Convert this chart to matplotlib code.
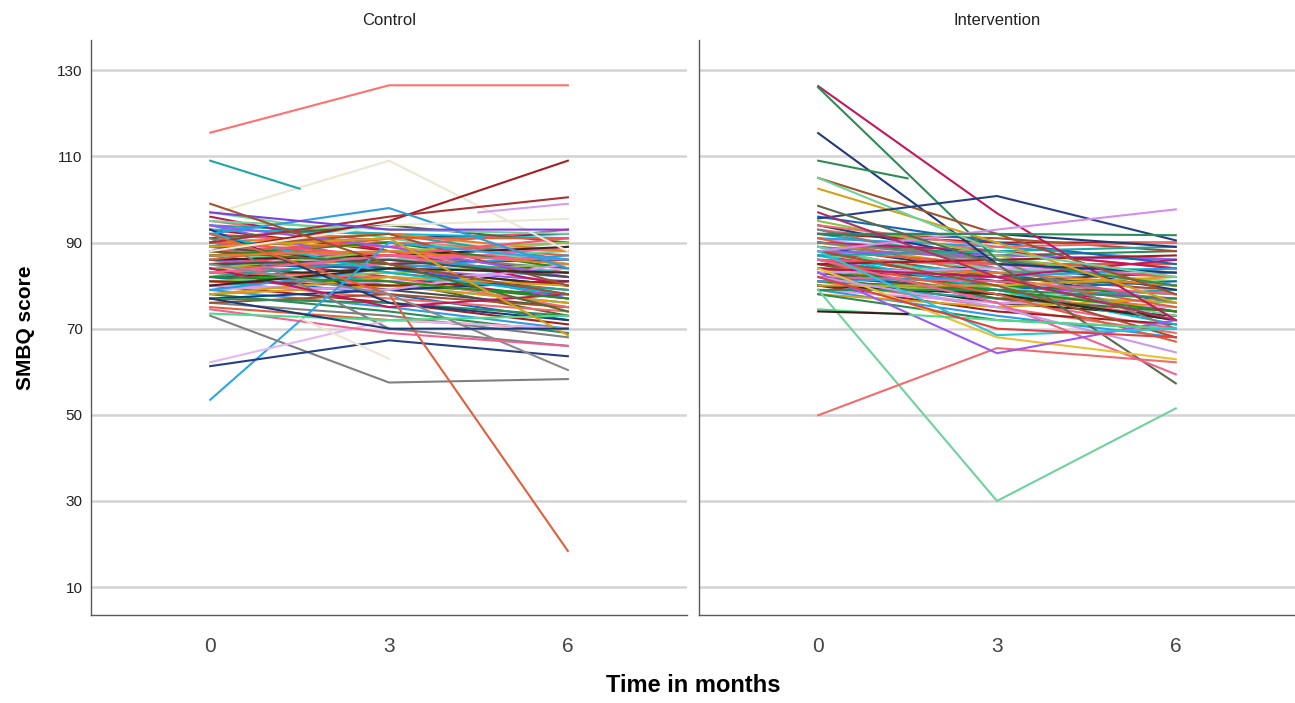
import numpy as np
import matplotlib
matplotlib.use("Agg")
import matplotlib.pyplot as plt
from matplotlib import font_manager

names = {f.name for f in font_manager.fontManager.ttflist}
narrow = 'Liberation Sans Narrow' if 'Liberation Sans Narrow' in names else 'Liberation Sans'
plt.rcParams['font.family'] = [narrow, 'DejaVu Sans']

months = [0, 3, 6]
yticks = [10, 30, 50, 70, 90, 110, 130]
panels = ["Control", "Intervention"]

# control group: SMBQ score at 0, 3, 6 months
control_marked = [
    [115.5, 126.5, 126.5],
    [96.5, 109, 88],
    [88, 95, 109],
    [90, 96, 100.5],
    [92, 98, 84],
    [53.5, 90, 86],
    [73, 57.5, 58.3],
    [61.3, 67.3, 63.6],
    [62.2, 72, 70],
    [92, 78, 18.4],
    [85, 78, 60.4],
    [74.5, 69, 66],
    [73.5, 72, 73],
    [89, 91, 68.5],
    [88, 94, 95.5],
    [77, 70, 70],
    [97, 93, 93],
    [99, 85, 78],
]
control_rest = [
    [95, 90, 88], [94, 92, 86], [93, 88, 83], [92, 86, 90], [91, 85, 82],
    [90, 89, 85], [90, 84, 80], [89, 91, 92], [89, 87, 84], [88, 83, 79],
    [88, 90, 87], [87, 82, 77], [87, 86, 88], [86, 84, 81], [86, 80, 76],
    [85, 88, 86], [85, 81, 73], [84, 86, 83], [84, 79, 75], [83, 85, 89],
    [83, 80, 78], [82, 84, 80], [82, 78, 72], [81, 83, 85], [81, 77, 74],
    [80, 82, 79], [80, 76, 71], [79, 81, 84], [79, 75, 70], [78, 80, 76],
    [78, 74, 69], [77, 79, 81], [76, 73, 68], [76, 78, 75], [75, 72, 70],
    [96, 88, 80], [97, 91, 85], [94, 85, 77], [93, 92, 91], [92, 89, 93],
    [91, 94, 90], [90, 92, 88], [89, 85, 86], [88, 87, 82], [87, 90, 84],
    [86, 87, 89], [85, 84, 78], [84, 88, 90], [83, 82, 75], [82, 86, 83],
    [81, 80, 81], [80, 79, 85], [79, 84, 87], [78, 82, 80], [77, 76, 73],
    [93, 76, 72], [91, 70, 66], [89, 92, 80], [86, 91, 91], [84, 75, 78],
    [95, 93, 92], [94, 89, 82], [92, 83, 78], [90, 87, 91], [88, 85, 74],
    [87, 88, 85], [85, 86, 82], [83, 87, 86], [82, 81, 77], [80, 84, 83],
]
# segments drawn only half way (one visit missing)
control_partial = [
    ([0, 1.5], [109, 102.5]),
    ([4.5, 6], [97, 99]),
    ([1.5, 3], [72.5, 63]),
]

interv_marked = [
    [126.3, 96.8, 72],
    [126, 86, 80],
    [115.4, 85, 83],
    [105, 92, 78],
    [102.5, 90, 76],
    [105, 88, 82],
    [95.6, 100.8, 90.5],
    [88, 93, 97.7],
    [92, 92, 91.7],
    [79, 30, 51.5],
    [49.9, 65.5, 62.2],
    [98.5, 85, 57.3],
    [86, 76, 59.4],
    [84, 68, 62.9],
    [83, 64.3, 72],
    [82, 75, 64.5],
    [74.5, 72, 70],
    [88, 68.5, 70],
    [82, 70, 68],
    [97, 82, 72],
]
interv_rest = [
    [93, 88, 84], [92, 86, 80], [92, 90, 90], [91, 85, 78], [91, 89, 86],
    [90, 84, 82], [90, 87, 88], [89, 83, 76], [89, 86, 83], [88, 82, 79],
    [88, 85, 85], [87, 81, 74], [87, 84, 81], [86, 80, 77], [86, 83, 84],
    [85, 79, 72], [85, 82, 80], [84, 78, 75], [84, 81, 83], [83, 77, 70],
    [83, 80, 78], [82, 76, 73], [82, 79, 81], [81, 78, 76], [81, 75, 69],
    [80, 77, 79], [80, 74, 71], [79, 76, 75], [79, 73, 68], [78, 75, 77],
    [78, 72, 70], [94, 86, 79], [93, 84, 76], [92, 91, 88], [91, 82, 75],
    [90, 88, 84], [89, 80, 73], [88, 87, 86], [87, 79, 71], [86, 85, 82],
    [85, 77, 74], [84, 83, 80], [83, 78, 72], [82, 81, 78], [81, 79, 74],
    [80, 78, 72], [96, 90, 85], [95, 87, 80], [94, 89, 90], [87, 88, 89],
    [85, 86, 87], [83, 84, 83], [81, 82, 84], [80, 80, 82], [79, 79, 77],
    [92, 92, 89], [90, 86, 70], [88, 80, 68], [86, 78, 67], [84, 82, 86],
]
interv_partial = [
    ([0, 1.5], [109, 104.9]),
    ([0, 1.5], [74, 73.4]),
]

# colours
palette = ['#f26b6b', '#1fa5a5', '#a31f1f', '#d59cf0', '#2e9be6', '#d4a017',
           '#2e8b57', '#1f3a7a', '#7f7f7f', '#a0522d', '#e0603c', '#c2185b',
           '#6dd39a', '#9b59f0', '#00bcd4', '#ff4d6d', '#556b2f', '#e67e22',
           '#4d4d4d', '#f06292', '#228b22', '#3b2a1a', '#1565c0', '#8bc34a']
control_marked_colors = ['#ff7070', '#ede6d0', '#a31f1f', '#a83232', '#2e9be6',
                         '#2ea5ea', '#808080', '#253f85', '#e3b8f0', '#e0603c',
                         '#8a8a8a', '#f06292', '#4ddb8a', '#d4a017', '#ece6d4',
                         '#1f3a7a', '#7b3fe0', '#a0522d']
control_partial_colors = ['#1fa5a5', '#d59cf0', '#ede6d0']
interv_marked_colors = ['#c2185b', '#2e8b57', '#1f3a7a', '#a0522d', '#d4a017',
                        '#6dd39a', '#253f85', '#d38cf0', '#2e8b57', '#6dd39a',
                        '#f26b6b', '#5a6b4a', '#f06292', '#e8c030', '#9b59f0',
                        '#c79af0', '#4ddb8a', '#22c8d8', '#e04040', '#b03060']
interv_partial_colors = ['#2e8b57', '#3b1a1a']

fig, axes = plt.subplots(1, 2, figsize=(12.95, 7.03), dpi=100)
fig.subplots_adjust(left=0.0703, right=1.0, bottom=0.125, top=0.943, wspace=0.02)

groups = [
    (control_rest, control_marked, control_marked_colors, control_partial, control_partial_colors),
    (interv_rest, interv_marked, interv_marked_colors, interv_partial, interv_partial_colors),
]

for ax, name, (rest, marked, mcols, partial, pcols) in zip(axes, panels, groups):
    for i, vals in enumerate(rest):
        ax.plot(months, vals, color=palette[i % len(palette)], lw=1.5, zorder=2)
    for vals, c in zip(marked, mcols):
        ax.plot(months, vals, color=c, lw=1.5, zorder=3)
    for (t, vals), c in zip(partial, pcols):
        ax.plot(t, vals, color=c, lw=1.5, zorder=3)

    ax.set_xlim(-2, 8)
    ax.set_ylim(3.5, 137)
    ax.set_xticks(months)
    ax.set_yticks(yticks)
    ax.yaxis.grid(True, color='#d4d4d4', lw=1.8, zorder=0)
    ax.set_axisbelow(True)
    for s in ['top', 'right']:
        ax.spines[s].set_visible(False)
    for s in ['left', 'bottom']:
        ax.spines[s].set_color('#5a5a5a')
        ax.spines[s].set_linewidth(1.0)
    ax.tick_params(axis='x', length=0, pad=16, labelsize=15, labelcolor='#444444')
    ax.tick_params(axis='y', length=0, pad=6, labelsize=11, labelcolor='#222222')
    ax.set_title(name, fontsize=12, color='#222222', pad=11)

axes[1].tick_params(axis='y', labelleft=False)
axes[0].set_ylabel("SMBQ score", fontsize=15, fontweight='bold', labelpad=16)
fig.text(0.535, 0.008, "Time in months", ha='center', va='bottom',
         fontsize=17, fontweight='bold')

fig.savefig("out.png", dpi=100)
